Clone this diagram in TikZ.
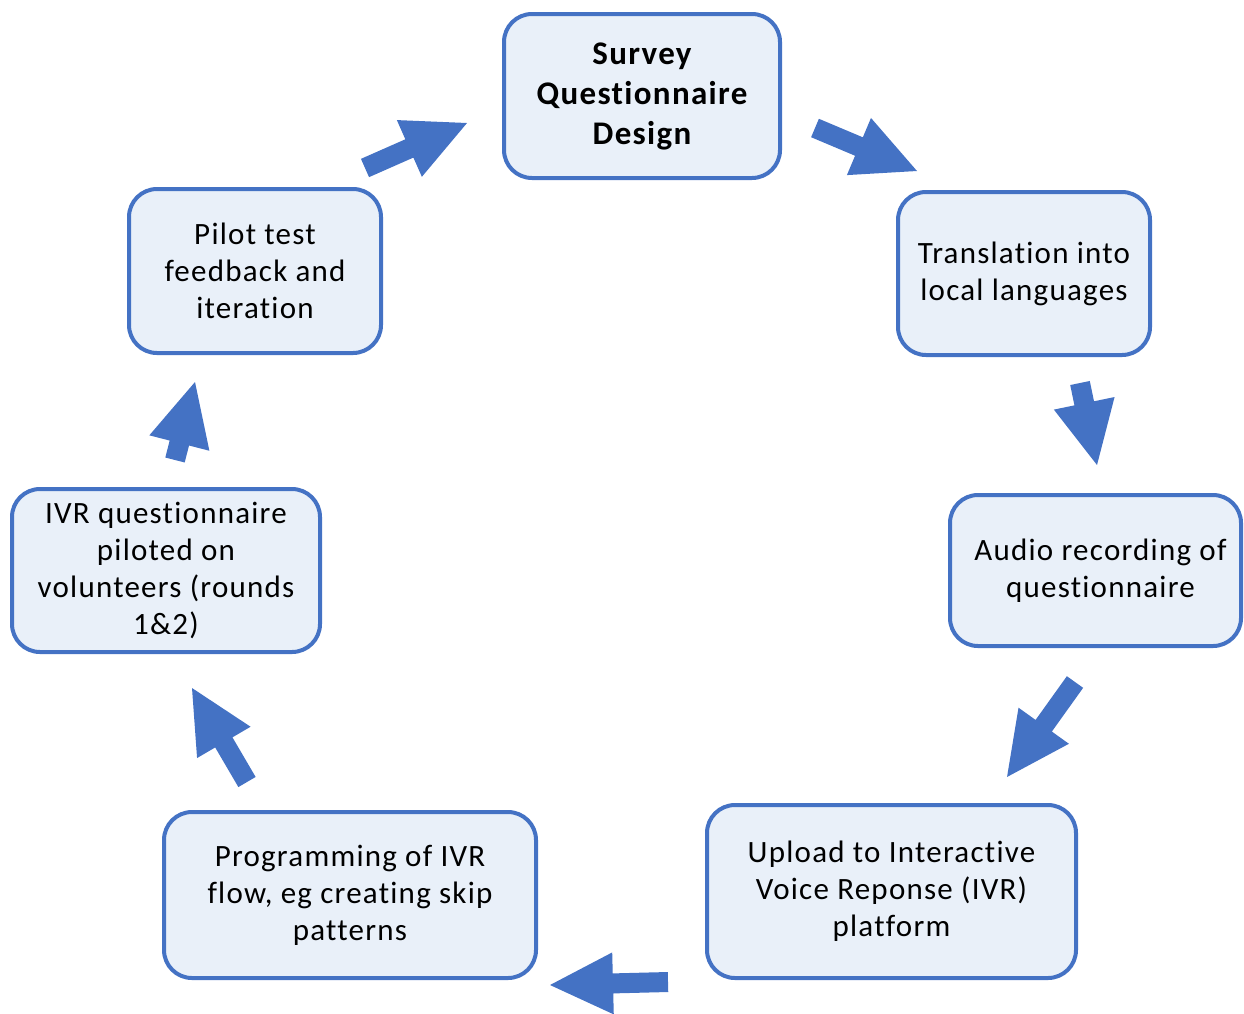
\documentclass[tikz,border=0pt]{standalone}
\usepackage{fontspec}
\setmainfont{Carlito}[Ligatures=NoCommon, LetterSpace=4]
\usetikzlibrary{calc}
\definecolor{boxblue}{HTML}{4472C4}
\definecolor{boxfill}{HTML}{E9F0F9}
\definecolor{arrowblue}{HTML}{4472C4}
\newcommand{\blockarrow}[2]{%
  \fill[arrowblue] let \p1=($(#2)-(#1)$), \n1={veclen(\x1,\y1)}, \n2={atan2(\y1,\x1)} in
  [shift={(#1)}, rotate=\n2]
  (0pt,-10pt) -- ({\n1-63pt},-10pt) -- ({\n1-63pt},-31pt) -- (\n1,0pt)
  -- ({\n1-63pt},31pt) -- ({\n1-63pt},10pt) -- (0pt,10pt) -- cycle;}
\begin{document}
\begin{tikzpicture}[x=1pt,y=-1pt,
  stagebox/.style={draw=boxblue, fill=boxfill, line width=4pt, rounded corners=28pt,
    align=center, inner sep=0pt, font=\fontsize{31}{37}\selectfont}]
\useasboundingbox (0,0) rectangle (1244,1013);
\clip (0,0) rectangle (1244,1013);
\node[stagebox, minimum width=276pt, minimum height=164pt, font=\fontsize{33}{40}\selectfont\bfseries]
  (survey) at (642,96) {Survey\\Questionnaire\\Design};
\node[stagebox, minimum width=252pt, minimum height=163pt] (transl) at (1024,273.5) {Translation into\\local languages};
\node[stagebox, minimum width=291pt, minimum height=151pt] (audio) at (1095.5,570.5) {\hspace*{10pt}Audio recording of\\\hspace*{10pt}questionnaire};
\node[stagebox, minimum width=369pt, minimum height=173pt] (upload) at (891.5,891.5) {Upload to Interactive\\Voice Reponse (IVR)\\platform};
\node[stagebox, minimum width=372pt, minimum height=166pt] (prog) at (350,895) {Programming of IVR\\flow, eg creating skip\\patterns};
\node[stagebox, minimum width=308pt, minimum height=163pt] (ivr) at (166,570.5) {IVR questionnaire\\piloted on\\volunteers (rounds\\1\&2)};
\node[stagebox, minimum width=252pt, minimum height=164pt] (pilot) at (255,271) {Pilot test\\feedback and\\iteration};
\coordinate (a1s) at (365,168); \coordinate (a1e) at (467,123);
\coordinate (a2s) at (815,128); \coordinate (a2e) at (917,171);
\coordinate (a3s) at (1080,383); \coordinate (a3e) at (1097,465);
\coordinate (a4s) at (1075,682); \coordinate (a4e) at (1007,777);
\coordinate (a5s) at (668,982); \coordinate (a5e) at (550,985);
\coordinate (a6s) at (247,782); \coordinate (a6e) at (192,688);
\coordinate (a7s) at (175,460); \coordinate (a7e) at (195,382);
\blockarrow{a1s}{a1e}
\blockarrow{a2s}{a2e}
\blockarrow{a3s}{a3e}
\blockarrow{a4s}{a4e}
\blockarrow{a5s}{a5e}
\blockarrow{a6s}{a6e}
\blockarrow{a7s}{a7e}
\end{tikzpicture}
\end{document}
